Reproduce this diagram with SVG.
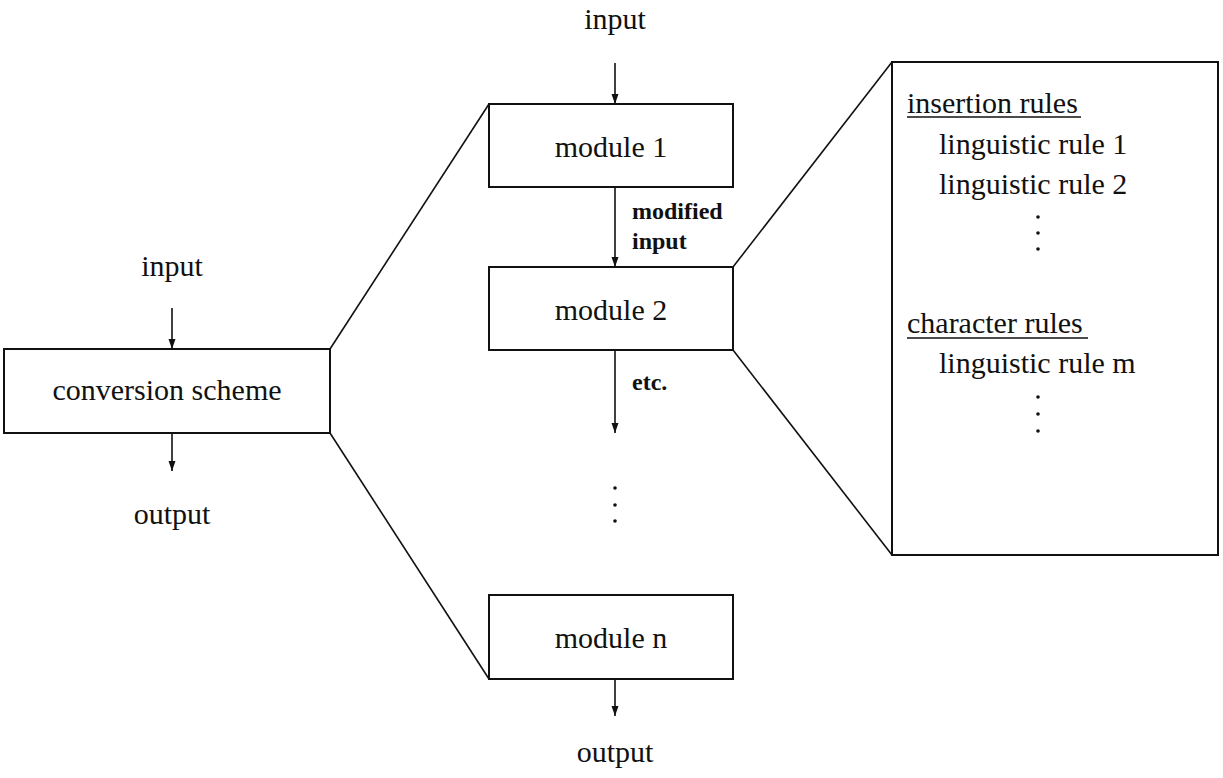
<svg xmlns="http://www.w3.org/2000/svg" width="1223" height="778" viewBox="0 0 1223 778">
  <style>
    .box { fill: #fff; stroke: #111; stroke-width: 2; }
    .conn { stroke: #111; stroke-width: 1.6; fill: none; }
    .arrow { stroke: #111; stroke-width: 1.6; fill: none; marker-end: url(#head); }
    .t { font-family: "Liberation Serif", "Times New Roman", serif; font-size: 30px; fill: #111; }
    .c { text-anchor: middle; }
    .lbl { font-family: "Liberation Serif", "Times New Roman", serif; font-size: 24px; font-weight: bold; fill: #111; }
    .ul { stroke: #111; stroke-width: 1.6; }
    .dot { fill: #111; }
  </style>
  <defs>
    <marker id="head" viewBox="0 0 10 10" refX="10" refY="5" markerWidth="10" markerHeight="10" markerUnits="userSpaceOnUse" orient="auto">
      <path d="M0,1.5 L10,5 L0,8.5 Z" fill="#111"/>
    </marker>
  </defs>

  <rect width="1223" height="778" fill="#fff"/>

  <!-- connectors: arrows and zoom-out lines -->
  <g id="connectors">
    <line class="arrow" x1="172" y1="308" x2="172" y2="349"/>
    <line class="arrow" x1="172" y1="433" x2="172" y2="471"/>
    <line class="arrow" x1="615" y1="63" x2="615" y2="104"/>
    <line class="arrow" x1="615" y1="187" x2="615" y2="267"/>
    <line class="arrow" x1="615" y1="350" x2="615" y2="433"/>
    <line class="arrow" x1="615" y1="679" x2="615" y2="716"/>
    <line class="conn" x1="330" y1="349" x2="489" y2="104"/>
    <line class="conn" x1="330" y1="433" x2="489" y2="679"/>
    <line class="conn" x1="733" y1="267" x2="892" y2="62"/>
    <line class="conn" x1="733" y1="350" x2="892" y2="555"/>
  </g>

  <!-- free labels -->
  <g id="labels">
    <text class="t c" x="172" y="276">input</text>
    <text class="t c" x="172" y="524">output</text>
    <text class="t c" x="615" y="29">input</text>
    <text class="t c" x="615" y="762">output</text>
    <text class="lbl" x="632" y="219">modified</text>
    <text class="lbl" x="632" y="249">input</text>
    <text class="lbl" x="632" y="390">etc.</text>
    <circle class="dot" cx="615" cy="488" r="1.8"/>
    <circle class="dot" cx="615" cy="505" r="1.8"/>
    <circle class="dot" cx="615" cy="521" r="1.8"/>
  </g>

  <g id="conversion-scheme">
    <rect class="box" x="4" y="349" width="326" height="84"/>
    <text class="t c" x="167" y="400">conversion scheme</text>
  </g>

  <g id="module-1">
    <rect class="box" x="489" y="104" width="244" height="83"/>
    <text class="t c" x="611" y="157">module 1</text>
  </g>

  <g id="module-2">
    <rect class="box" x="489" y="267" width="244" height="83"/>
    <text class="t c" x="611" y="320">module 2</text>
  </g>

  <g id="module-n">
    <rect class="box" x="489" y="595" width="244" height="84"/>
    <text class="t c" x="611" y="648">module n</text>
  </g>

  <g id="rule-list">
    <rect class="box" x="892" y="62" width="326" height="493"/>
    <text class="t" x="907" y="113">insertion rules</text>
    <line class="ul" x1="907" y1="117" x2="1081" y2="117"/>
    <text class="t" x="939" y="154">linguistic rule 1</text>
    <text class="t" x="939" y="194">linguistic rule 2</text>
    <circle class="dot" cx="1038" cy="217" r="1.8"/>
    <circle class="dot" cx="1038" cy="233" r="1.8"/>
    <circle class="dot" cx="1038" cy="249" r="1.8"/>
    <text class="t" x="907" y="333">character rules</text>
    <line class="ul" x1="907" y1="338" x2="1088" y2="338"/>
    <text class="t" x="939" y="373">linguistic rule m</text>
    <circle class="dot" cx="1038" cy="397" r="1.8"/>
    <circle class="dot" cx="1038" cy="414" r="1.8"/>
    <circle class="dot" cx="1038" cy="431" r="1.8"/>
  </g>
</svg>
